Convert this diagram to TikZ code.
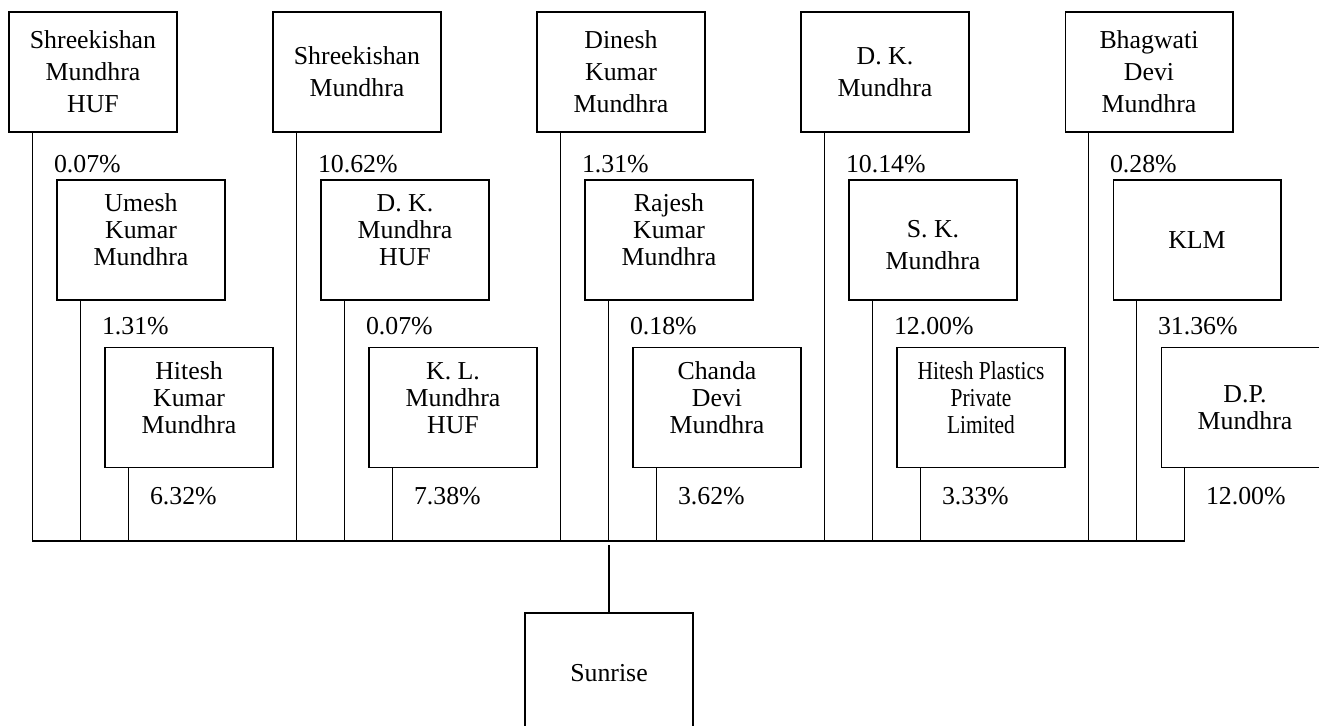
\documentclass[tikz,border=0pt]{standalone}
\usepackage{fontspec}
\setmainfont{Liberation Serif}
\newfontfamily\narrowserif[FakeStretch=0.83]{Liberation Serif}
\usetikzlibrary{calc}
\tikzset{
  owner/.style={draw, minimum width=3.36cm, minimum height=2.4cm, inner sep=0pt},
  wide/.style={align=center, font=\fontsize{14.7}{18.2}\selectfont},
  tight/.style={align=center, font=\fontsize{14.7}{15.4}\selectfont},
  share/.style={anchor=west, inner sep=0pt, font=\fontsize{14.7}{18}\selectfont},
}
\begin{document}
\begin{tikzpicture}[x=0.02cm, y=-0.02cm, line width=0.6pt]
\useasboundingbox (0,0) rectangle (1319,726);
\clip (0,0) rectangle (1319,726);

\node[owner,wide] (skhuf) at (93,72) {Shreekishan\\Mundhra\\HUF}; %row 1
\node[owner,wide] (skm) at (357,72) {Shreekishan\\Mundhra};
\node[owner,wide] (dinesh) at (621,72) {Dinesh\\Kumar\\Mundhra};
\node[owner,wide] (dkm) at (885,72) {D. K.\\Mundhra};
\node[owner,wide] (bdm) at (1149,72) {Bhagwati\\Devi\\Mundhra};

\node[owner] (umesh) at (141,240) {}; %row 2
\node[tight] at ([yshift=0.2cm]umesh.center) {Umesh\\Kumar\\Mundhra};
\node[owner] (dkhuf) at (405,240) {};
\node[tight] at ([yshift=0.2cm]dkhuf.center) {D. K.\\Mundhra\\HUF};
\node[owner] (rajesh) at (669,240) {};
\node[tight] at ([yshift=0.2cm]rajesh.center) {Rajesh\\Kumar\\Mundhra};
\node[owner] (skmu) at (933,240) {};
\node[wide] at ([yshift=-0.1cm]skmu.center) {S. K.\\Mundhra};
\node[owner,wide] (klm) at (1197,240) {KLM};

\node[owner] (hitesh) at (189,407.5) {}; %row 3
\node[tight] at ([yshift=0.19cm]hitesh.center) {Hitesh\\Kumar\\Mundhra};
\node[owner] (klhuf) at (453,407.5) {};
\node[tight] at ([yshift=0.19cm]klhuf.center) {K. L.\\Mundhra\\HUF};
\node[owner] (chanda) at (717,407.5) {};
\node[tight] at ([yshift=0.19cm]chanda.center) {Chanda\\Devi\\Mundhra};
\node[owner] (hppl) at (981,407.5) {};
\node[tight] at ([yshift=0.19cm]hppl.center) {\narrowserif Hitesh Plastics\\\narrowserif Private\\\narrowserif Limited};
\node[owner] (dpm) at (1245,407.5) {};
\node[tight] at (dpm.center) {D.P.\\Mundhra};

\node[owner,wide] (sunrise) at (609,673) {Sunrise};

%shares
\node[share] (p1) at ([xshift=0.9cm,yshift=-0.64cm]skhuf.south west) {0.07\%};
\node[share] (p2) at ([xshift=0.9cm,yshift=-0.64cm]skm.south west) {10.62\%};
\node[share] (p3) at ([xshift=0.9cm,yshift=-0.64cm]dinesh.south west) {1.31\%};
\node[share] (p4) at ([xshift=0.9cm,yshift=-0.64cm]dkm.south west) {10.14\%};
\node[share] (p5) at ([xshift=0.9cm,yshift=-0.64cm]bdm.south west) {0.28\%};
\node[share] (p6) at ([xshift=0.9cm,yshift=-0.52cm]umesh.south west) {1.31\%};
\node[share] (p7) at ([xshift=0.9cm,yshift=-0.52cm]dkhuf.south west) {0.07\%};
\node[share] (p8) at ([xshift=0.9cm,yshift=-0.52cm]rajesh.south west) {0.18\%};
\node[share] (p9) at ([xshift=0.9cm,yshift=-0.52cm]skmu.south west) {12.00\%};
\node[share] (p10) at ([xshift=0.9cm,yshift=-0.52cm]klm.south west) {31.36\%};
\node[share] (p11) at ([xshift=0.9cm,yshift=-0.56cm]hitesh.south west) {6.32\%};
\node[share] (p12) at ([xshift=0.9cm,yshift=-0.56cm]klhuf.south west) {7.38\%};
\node[share] (p13) at ([xshift=0.9cm,yshift=-0.56cm]chanda.south west) {3.62\%};
\node[share] (p14) at ([xshift=0.9cm,yshift=-0.56cm]hppl.south west) {3.33\%};
\node[share] (p15) at ([xshift=0.9cm,yshift=-0.56cm]dpm.south west) {12.00\%};

%lines down to the bus
\coordinate (bus) at (0,541);
\foreach \n in {skhuf,umesh,hitesh,skm,dkhuf,klhuf,dinesh,rajesh,chanda,dkm,skmu,hppl,bdm,klm,dpm}
  \draw ($(\n.south west)+(24,0)$) coordinate (\n-top) -- (\n-top |- bus) coordinate (\n-foot);
\draw (skhuf-foot) -- (dpm-foot);

\coordinate (tap) at ($(bus -| sunrise.north)+(0,4)$);
\draw (tap) -- (sunrise.north);
\end{tikzpicture}
\end{document}
